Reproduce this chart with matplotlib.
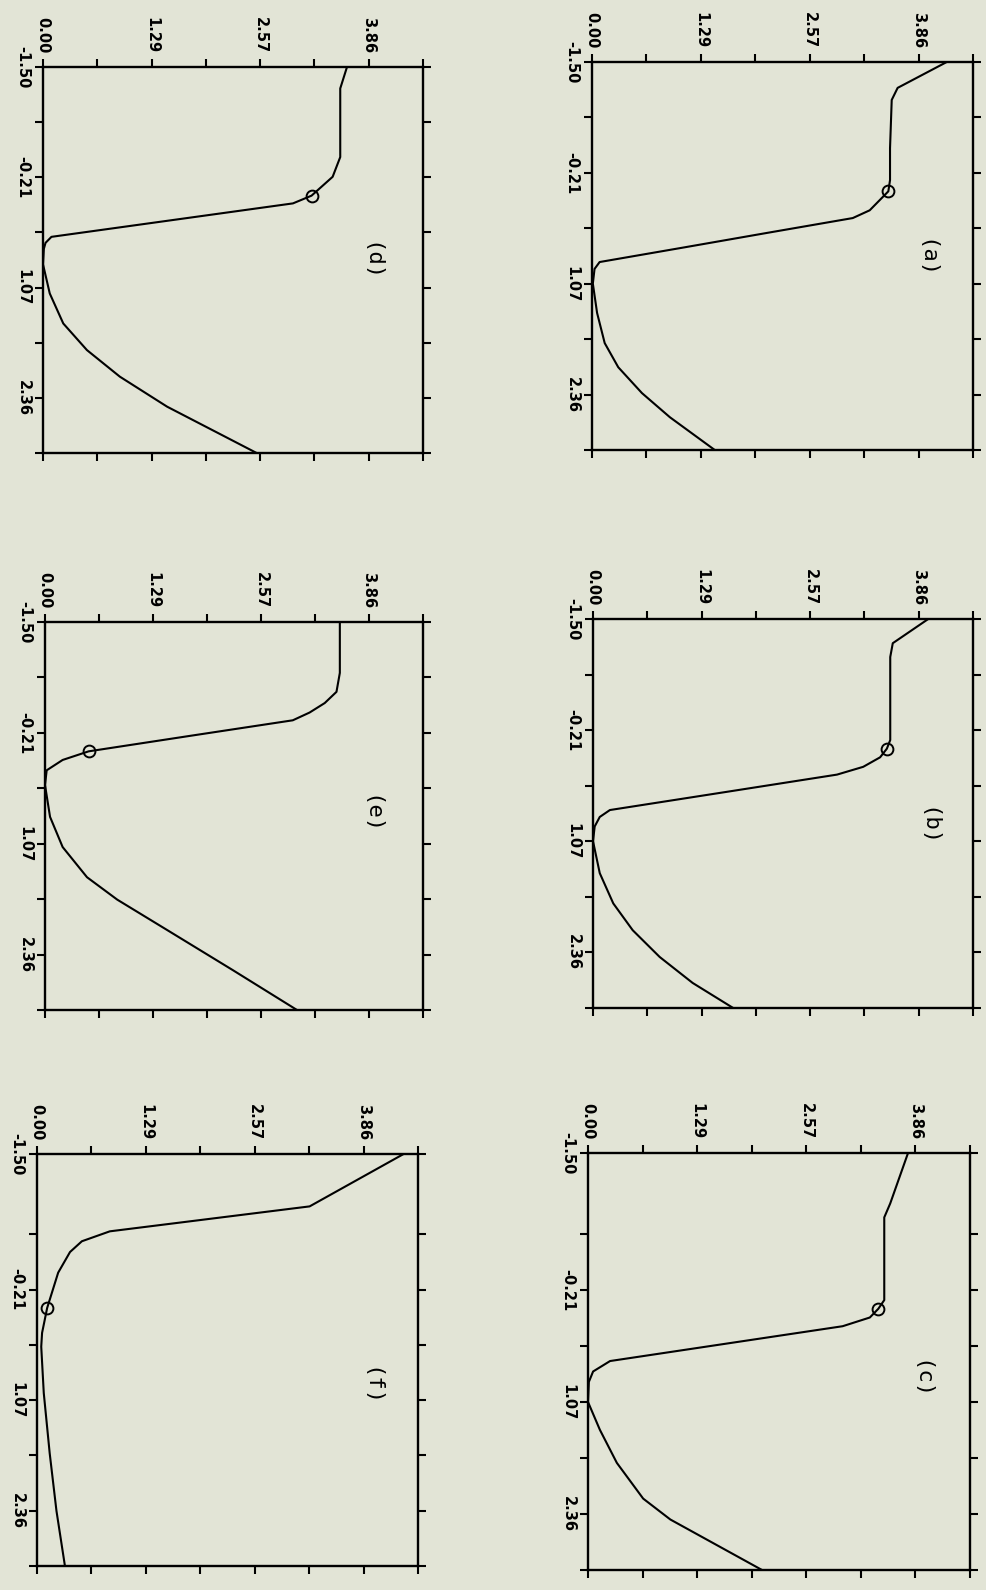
import numpy as np
import matplotlib
matplotlib.use('Agg')
import matplotlib.pyplot as plt

plt.rcParams['font.family'] = ['DejaVu Sans']

PAPER = '#e2e4d6'
W, H = 987, 1590

# shared axis ticks: position along the profile and the plotted quantity
x_ticks = [-1.50, -0.857, -0.214, 0.429, 1.071, 1.714, 2.357, 3.00]
x_labels = ['-1.50', '', '-0.21', '', '1.07', '', '2.36', '']
v_ticks = [0.0, 0.643, 1.286, 1.929, 2.571, 3.214, 3.857, 4.50]
v_labels = ['0.00', '', '1.29', '', '2.57', '', '3.86', '']

# curves, one pair of lists per panel
xa = [-1.50, -1.20, -1.06, -0.50, -0.13, 0.00, 0.10, 0.22, 0.31, 0.48, 0.65, 0.82, 0.90, 1.07, 1.41, 1.76, 2.04, 2.34, 2.62, 3.00]
va = [4.19, 3.61, 3.54, 3.52, 3.52, 3.50, 3.40, 3.28, 3.08, 2.08, 1.09, 0.09, 0.03, 0.01, 0.06, 0.15, 0.31, 0.59, 0.92, 1.45]

xb = [-1.50, -1.22, -1.06, -0.50, -0.10, 0.00, 0.10, 0.21, 0.30, 0.50, 0.71, 0.79, 0.90, 1.07, 1.44, 1.79, 2.10, 2.41, 2.71, 3.00]
vb = [3.97, 3.55, 3.52, 3.52, 3.52, 3.48, 3.40, 3.20, 2.89, 1.58, 0.20, 0.08, 0.02, 0.00, 0.08, 0.24, 0.47, 0.79, 1.18, 1.66]

xc = [-1.50, -1.10, -0.99, -0.50, -0.10, 0.00, 0.10, 0.20, 0.40, 0.60, 0.72, 0.84, 1.07, 1.39, 1.77, 2.18, 2.42, 3.00]
vc = [3.77, 3.56, 3.49, 3.49, 3.49, 3.42, 3.32, 3.00, 1.63, 0.26, 0.06, 0.01, 0.00, 0.14, 0.34, 0.65, 0.97, 2.05]

xd = [-1.50, -1.25, -0.45, -0.22, 0.00, 0.09, 0.48, 0.55, 0.62, 0.80, 1.14, 1.49, 1.80, 2.11, 2.46, 3.00]
vd = [3.60, 3.52, 3.52, 3.43, 3.18, 2.96, 0.10, 0.03, 0.01, 0.00, 0.08, 0.24, 0.52, 0.91, 1.47, 2.53]

xe = [-1.50, -0.91, -0.69, -0.56, -0.45, -0.36, -0.18, 0.00, 0.10, 0.22, 0.39, 0.76, 1.11, 1.46, 1.72, 2.07, 2.54, 3.00]
ve = [3.51, 3.51, 3.47, 3.33, 3.15, 2.95, 1.73, 0.52, 0.21, 0.02, 0.00, 0.06, 0.21, 0.50, 0.86, 1.45, 2.24, 3.00]

xf = [-1.50, -1.08, -0.88, -0.775, -0.65, -0.41, 0.00, 0.29, 0.45, 0.99, 1.69, 2.36, 3.00]
vf = [4.33, 3.22, 0.86, 0.53, 0.39, 0.25, 0.12, 0.06, 0.05, 0.08, 0.15, 0.23, 0.33]

# open circle on each curve
mark_x = [0.00, 0.00, 0.00, 0.00, 0.00, 0.00]
mark_v = [3.50, 3.48, 3.42, 3.18, 0.52, 0.12]

names = ['(a)', '(b)', '(c)', '(d)', '(e)', '(f)']
curves = [(xa, va), (xb, vb), (xc, vc), (xd, vd), (xe, ve), (xf, vf)]

# panel boxes in pixels: left, top, right, bottom
boxes = [(592, 62, 973, 450), (593, 619, 973, 1008), (588, 1153, 970, 1570),
         (43, 67, 423, 453), (45, 622, 423, 1010), (37, 1154, 418, 1566)]
label_pos = [(0.874, 0.492), (0.879, 0.465), (0.869, 0.456),
             (0.861, 0.495), (0.862, 0.503), (0.874, 0.434)]
stretched = [False, False, True, False, False, True]

# the lower row has its first tick interval drawn wider
X0, K = -0.857, 1.45


def stretch(x):
    x = np.asarray(x, dtype=float)
    return np.where(x < X0, X0 - (X0 - x) * K, x)


def unstretch(y):
    y = np.asarray(y, dtype=float)
    return np.where(y < X0, X0 - (X0 - y) / K, y)


fig = plt.figure(figsize=(W / 100, H / 100), dpi=100, facecolor=PAPER)

for i in range(6):
    l, t, r, b = boxes[i]
    ax = fig.add_axes([l / W, 1 - b / H, (r - l) / W, (b - t) / H])
    ax.set_facecolor('none')
    if stretched[i]:
        ax.set_yscale('function', functions=(stretch, unstretch))

    x, v = curves[i]
    ax.plot(v, x, color='black', lw=1.5, solid_joinstyle='round')
    ax.plot(mark_v[i], mark_x[i], 'o', mfc='none', mec='black', ms=8.5, mew=1.4)

    ax.set_xlim(0, 4.5)
    ax.set_ylim(3.0, -1.5)
    ax.set_xticks(v_ticks, v_labels)
    ax.set_yticks(x_ticks, x_labels)
    ax.xaxis.set_ticks_position('both')
    ax.yaxis.set_ticks_position('both')
    ax.tick_params(direction='out', length=6, width=1.5, labelsize=10.5,
                   labelrotation=-90, color='black')
    ax.tick_params(axis='x', labeltop=True, labelbottom=False, pad=4)
    ax.tick_params(axis='y', labelleft=True, labelright=False, pad=3)
    for lbl in ax.get_xticklabels() + ax.get_yticklabels():
        lbl.set_fontweight('bold')
    for lbl in ax.get_yticklabels():
        lbl.set_va('center')
    for sp in ax.spines.values():
        sp.set_linewidth(1.7)

    ax.text(label_pos[i][0], label_pos[i][1], names[i], transform=ax.transAxes,
            rotation=-90, ha='center', va='center', fontsize=16,
            family='DejaVu Sans Mono')

fig.savefig('out.png', dpi=100, facecolor=PAPER)
